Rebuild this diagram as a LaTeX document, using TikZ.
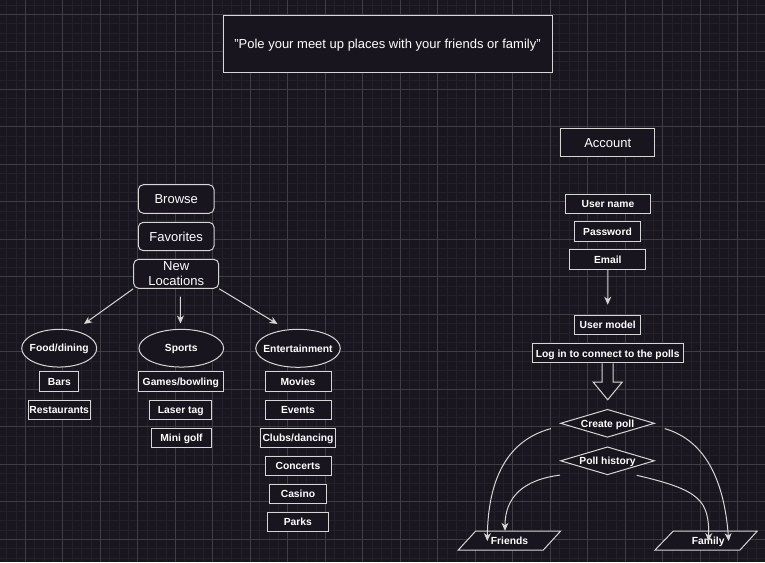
\documentclass[tikz,border=0pt]{standalone}
\usepackage{fontspec}
\setmainfont{Liberation Sans}
\usetikzlibrary{shapes.geometric,arrows.meta,calc}

\definecolor{canvas}{RGB}{25,22,31}
\definecolor{minorline}{RGB}{34,32,40}
\definecolor{majorline}{RGB}{64,62,69}
\definecolor{boxfill}{RGB}{25,21,31}
\definecolor{edge}{RGB}{214,214,214}

% zero-width label so that a shape keeps its given minimum size
\newcommand{\zerowide}[1]{\makebox[0pt]{#1}}

\begin{document}
\begin{tikzpicture}[x=1pt,y=-1pt,
  base/.style={draw=edge, fill=boxfill, line width=1pt, text=white, inner sep=0pt},
  small/.style={base, font=\fontsize{10.3}{12}\selectfont\bfseries, text height=7.4pt, text depth=0pt},
  big/.style={base, font=\fontsize{13}{14.6}\selectfont},
  bigone/.style={big, text height=9.3pt, text depth=0pt},
  roundbox/.style={big, rounded corners=5pt},
  oval/.style={small, ellipse},
  choice/.style={small, diamond, aspect=3.35, minimum width=94pt, minimum height=28pt},
  slantlabel/.style={text=white, inner sep=0pt, font=\fontsize{10.3}{12}\selectfont\bfseries,
                     text height=7.4pt, text depth=0pt},
  slantbox/.style={draw=edge, fill=boxfill, line width=1pt, line join=miter},
  conn/.style={draw=edge, line width=1pt, -{Stealth[length=8pt,width=7pt,inset=2.5pt]}}
]
% canvas and grid
\fill[canvas] (0,0) rectangle (765,562);
\useasboundingbox (0,0) rectangle (765,562);
\foreach \k in {0,...,81} { \draw[minorline, line width=0.8pt] ({6.55+9.375*\k},0) -- ++(0,562); }
\foreach \k in {0,...,59} { \draw[minorline, line width=0.8pt] (0,{4.925+9.375*\k}) -- ++(765,0); }
\foreach \k in {0,...,19} { \draw[majorline, line width=1pt] ({25.3+37.5*\k},0) -- ++(0,562); }
\foreach \k in {0,...,14} { \draw[majorline, line width=1pt] (0,{14.3+37.5*\k}) -- ++(765,0); }

% heading
\node[bigone, minimum width=329pt, minimum height=56.7pt] (title) at (387.5,44.3)
  {"Pole your meet up places with your friends or family"};

% left menu
\node[roundbox, bigone, minimum width=75.7pt, minimum height=28.6pt] (browse) at (176.2,199) {Browse};
\node[roundbox, bigone, minimum width=75.7pt, minimum height=28.4pt] (favs) at (176.2,236.5) {Favorites};
\node[roundbox, minimum width=85pt, minimum height=29pt, align=center] (newloc) at (176.2,273.8) {New\\Locations};

% categories
\node[oval, minimum width=75pt, minimum height=37.7pt] (food) at (59.2,348.2) {\zerowide{Food/dining}};
\node[oval, minimum width=84.7pt, minimum height=37.7pt] (sports) at (181.3,348.2) {\zerowide{Sports}};
\node[oval, minimum width=84.6pt, minimum height=38pt] (ent) at (298,348.3) {\zerowide{Entertainment}};

\coordinate (nlmid) at (180.3,296.7);
\coordinate (tipfood) at (84,324);
\coordinate (tipsports) at (180.5,323.5);
\coordinate (tipent) at (277.5,324);
\draw[conn] (newloc.south west) -- (tipfood);
\draw[conn] (nlmid) -- (tipsports);
\draw[conn] (newloc.south east) -- (tipent);

% food items
\node[small, minimum width=38.7pt, minimum height=19.6pt] (bars) at (59.3,381.5) {Bars};
\node[small, minimum width=61.7pt, minimum height=19.3pt] (rest) at (59.2,409.7) {Restaurants};
% sports items
\node[small, minimum width=85pt, minimum height=19.6pt] (games) at (180.8,381.5) {Games/bowling};
\node[small, minimum width=61.7pt, minimum height=19.3pt] (laser) at (180.8,409.7) {Laser tag};
\node[small, minimum width=60.4pt, minimum height=19.4pt] (golf) at (181.5,438) {Mini golf};
% entertainment items
\node[small, minimum width=66pt, minimum height=19.6pt] (movies) at (298,381.5) {Movies};
\node[small, minimum width=66pt, minimum height=19.3pt] (events) at (298,409.7) {Events};
\node[small, minimum width=75.4pt, minimum height=19pt] (clubs) at (298,437.8) {Clubs/dancing};
\node[small, minimum width=66pt, minimum height=19pt] (concerts) at (298,465.8) {Concerts};
\node[small, minimum width=56.6pt, minimum height=19pt] (casino) at (298,493.8) {Casino};
\node[small, minimum width=61pt, minimum height=19pt] (parks) at (297.8,521.8) {Parks};

% account column
\node[bigone, minimum width=94.3pt, minimum height=28.7pt] (account) at (607.8,142.6) {Account};
\node[small, minimum width=84.7pt, minimum height=19.3pt] (uname) at (608,203.7) {User name};
\node[small, minimum width=66.3pt, minimum height=19.7pt] (pass) at (607.5,231.8) {Password};
\node[small, minimum width=75.7pt, minimum height=19.7pt] (email) at (607.8,259.8) {Email};
\node[small, minimum width=66pt, minimum height=19pt] (umodel) at (607.7,325.2) {User model};
\node[small, minimum width=150.7pt, minimum height=19.3pt] (login) at (607.7,353.3) {Log in to connect to the polls};
\draw[conn, shorten >=10.5pt] (email) -- (umodel);

% hollow block arrow
\draw[draw=edge, fill=boxfill, line width=1pt, line join=miter]
  ([xshift=-5.5pt]login.south) -- ++(0,18.7) -- ++(-9,0) -- ++(14.5,17.6)
  -- ++(14.5,-17.6) -- ++(-9,0) -- ([xshift=5.5pt]login.south);

% polls
\node[choice] (cpoll) at (607.5,423.3) {\zerowide{Create poll}};
\node[choice] (phist) at (607.5,460.8) {\zerowide{Poll history}};

% slanted target boxes
\coordinate (fc) at (509.5,540.5);
\coordinate (mc) at (706.2,540.5);
\draw[slantbox] ($(fc)+(-51.2,9.5)$) -- ($(fc)+(-33.8,-9.5)$) -- ($(fc)+(51.2,-9.5)$) -- ($(fc)+(33.8,9.5)$) -- cycle;
\draw[slantbox] ($(mc)+(-51.2,9.5)$) -- ($(mc)+(-32.9,-9.5)$) -- ($(mc)+(51.1,-9.5)$) -- ($(mc)+(33.8,9.5)$) -- cycle;
\node[slantlabel, minimum width=84pt, minimum height=19pt] (friends) at (fc) {Friends};
\node[slantlabel, minimum width=84pt, minimum height=19pt] (family) at ([xshift=2pt]mc) {Family};

\draw[conn] ([xshift=-9pt,yshift=-5.3pt]cpoll.west)
  .. controls (508,440) and (488,478) .. ([xshift=-22.2pt,yshift=-10.3pt]friends.north);
\draw[conn] ([xshift=9.7pt,yshift=-5.3pt]cpoll.east)
  .. controls (704,440) and (724,478) .. ([xshift=20.5pt,yshift=-10.3pt]family.north);
\draw[conn] ([yshift=-14.3pt]phist.west)
  .. controls (522,480) and (505,498) .. ([xshift=-4.5pt]friends.north);
\draw[conn] ([xshift=29.2pt]phist.south)
  .. controls (700,490) and (709,500) .. ([xshift=0.5pt,yshift=-10.3pt]family.north);
\end{tikzpicture}
\end{document}
